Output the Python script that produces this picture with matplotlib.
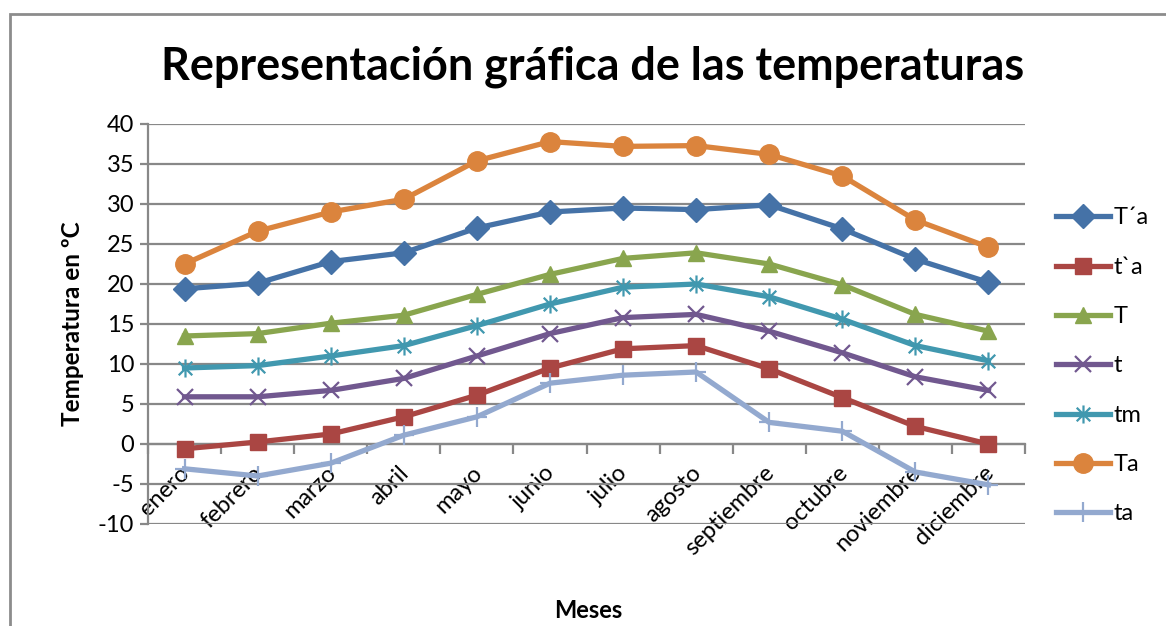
import numpy as np
import matplotlib.pyplot as plt
from matplotlib.path import Path
from matplotlib.patches import Rectangle
import matplotlib.transforms as mtransforms

# datos
meses = ['enero', 'febrero', 'marzo', 'abril', 'mayo', 'junio', 'julio',
         'agosto', 'septiembre', 'octubre', 'noviembre', 'diciembre']
T_prima_a = [19.4, 20.1, 22.8, 23.9, 27.0, 29.0, 29.5, 29.3, 29.9, 26.9, 23.1, 20.2]
t_grave_a = [-0.6, 0.25, 1.25, 3.4, 6.1, 9.5, 11.9, 12.3, 9.4, 5.8, 2.2, 0.0]
T = [13.5, 13.8, 15.1, 16.1, 18.7, 21.2, 23.2, 23.9, 22.5, 19.9, 16.2, 14.1]
t = [5.9, 5.9, 6.7, 8.2, 11.0, 13.8, 15.8, 16.2, 14.1, 11.4, 8.4, 6.7]
tm = [9.5, 9.8, 11.0, 12.3, 14.8, 17.5, 19.6, 20.0, 18.4, 15.6, 12.3, 10.4]
Ta = [22.5, 26.6, 29.0, 30.6, 35.4, 37.8, 37.2, 37.3, 36.2, 33.5, 28.0, 24.6]
ta = [-3.1, -4.0, -2.4, 1.1, 3.4, 7.6, 8.6, 9.0, 2.7, 1.6, -3.5, -5.1]

series = [('T´a', T_prima_a), ('t`a', t_grave_a), ('T', T), ('t', t),
          ('tm', tm), ('Ta', Ta), ('ta', ta)]
colores = ['#4572A7', '#AA4643', '#89A54E', '#71588F', '#4198AF', '#DB843D', '#93A9CF']

# marcador asterisco: vertical + dos diagonales
asterisco = Path([(0, -1), (0, 1), (-0.75, -0.75), (0.75, 0.75), (-0.75, 0.75), (0.75, -0.75)],
                 [Path.MOVETO, Path.LINETO, Path.MOVETO, Path.LINETO, Path.MOVETO, Path.LINETO])
marcadores = [('D', 12, 1), ('s', 12, 1), ('^', 12, 1), ('x', 11, 1.6),
              (asterisco, 13, 1.6), ('o', 14, 1), ('+', 14, 1.6)]

plt.rcParams['font.family'] = ['Lato', 'DejaVu Sans']
plt.rcParams['axes.unicode_minus'] = False

fig = plt.figure(figsize=(11.66, 6.26), dpi=100)
ax = fig.add_axes([148/1166, 1-524/626, (1025-148)/1166, 400/626])

fig.patches.append(Rectangle((10/1166, -0.1), 1.2, 1-14/626+0.1, transform=fig.transFigure,
                             fill=False, edgecolor='#8c8c8c', linewidth=2, zorder=0))

x = np.arange(len(meses))
for (nombre, vals), c, (m, ms, mew) in zip(series, colores, marcadores):
    ax.plot(x, vals, color=c, linewidth=3.8, marker=m, markersize=ms,
            markeredgewidth=mew, markeredgecolor=c, label=nombre, zorder=3)

ax.set_xlim(-0.5, 11.5)
ax.set_ylim(-10, 40)
ax.set_yticks(range(-10, 41, 5))
ax.grid(axis='y', color='#888888', linewidth=1.6, zorder=0)
ax.tick_params(axis='y', labelsize=17, length=6, width=1.6, color='#888888', pad=4)

for s in ['top', 'right']:
    ax.spines[s].set_visible(False)
ax.spines['left'].set_color('#888888')
ax.spines['left'].set_linewidth(1.6)
ax.spines['bottom'].set_position(('data', 0))
ax.spines['bottom'].set_color('#888888')
ax.spines['bottom'].set_linewidth(1.6)

ax.set_xticks(x)
ax.set_xticklabels(meses, rotation=45, ha='right', fontsize=17)
ax.set_xticks(np.arange(-0.5, 12, 1), minor=True)
ax.tick_params(axis='x', which='major', length=0, pad=13)
ax.tick_params(axis='x', which='minor', length=7, width=1.6, color='#888888', direction='out')
desplaz = mtransforms.ScaledTranslation(9/100, 0, fig.dpi_scale_trans)
for lab in ax.get_xticklabels():
    lab.set_transform(lab.get_transform() + desplaz)

ax.set_ylabel('Temperatura en ºC', fontsize=17.5, fontweight='bold', labelpad=10)
fig.text(588/1166, 1-610/626, 'Meses', fontsize=17, fontweight='bold', ha='center', va='center')
fig.text(593/1166, 1-67/626, 'Representación gráfica de las temperaturas',
         fontsize=32.4, fontweight='bold', ha='center', va='center')

fig.legend(loc='center left', bbox_to_anchor=(1056/1166, 1-366/626), frameon=False,
           fontsize=17, handlelength=2.3, labelspacing=1.2, handletextpad=0.15,
           borderaxespad=0, borderpad=0)

fig.savefig('out.png', dpi=100)
